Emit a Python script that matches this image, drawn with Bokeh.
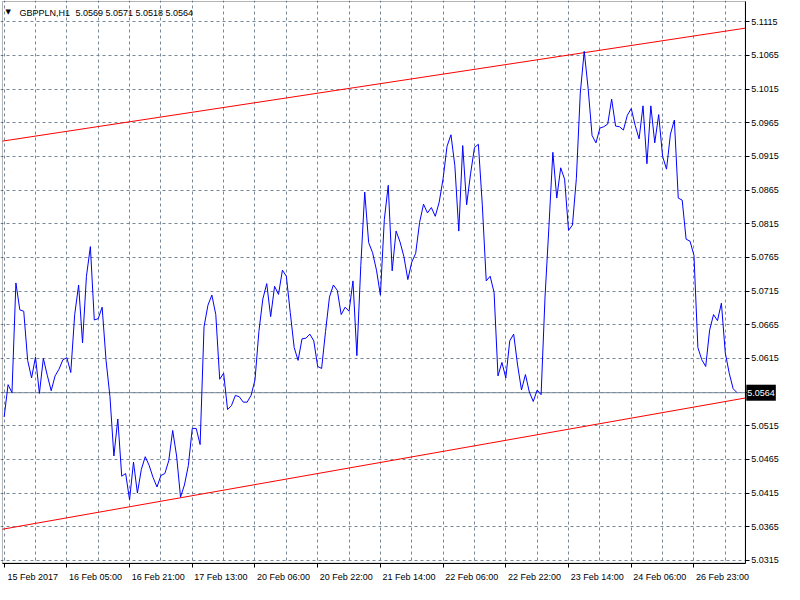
from bokeh.plotting import figure
from bokeh.models import Range1d, FixedTicker, Label, LinearAxis, BoxAnnotation
from bokeh.embed import file_html
from bokeh.resources import INLINE

# ---------------- data ----------------
symbol = "GBPPLN,H1"
ohlc_text = "5.0569 5.0571 5.0518 5.0564"

# hourly closes, one per bar (bar 0 = 15 Feb 2017 13:00)
close = [
    5.0528, 5.0576, 5.0564, 5.0727, 5.0687, 5.0685, 5.0612, 5.0586, 5.0617, 5.0563,
    5.0615, 5.0590, 5.0567, 5.0589, 5.0599, 5.0613, 5.0616, 5.0594, 5.0680, 5.0724,
    5.0638, 5.0737, 5.0781, 5.0672, 5.0674, 5.0691, 5.0612, 5.0558, 5.0470, 5.0525,
    5.0440, 5.0444, 5.0405, 5.0461, 5.0415, 5.0450, 5.0469, 5.0456, 5.0438, 5.0424,
    5.0441, 5.0444, 5.0463, 5.0508, 5.0470, 5.0409, 5.0427, 5.0456, 5.0511, 5.0511,
    5.0487, 5.0662, 5.0694, 5.0709, 5.0680, 5.0584, 5.0593, 5.0539, 5.0545, 5.0560,
    5.0558, 5.0550, 5.0550, 5.0560, 5.0583, 5.0655, 5.0703, 5.0726, 5.0677, 5.0722,
    5.0710, 5.0746, 5.0737, 5.0683, 5.0631, 5.0612, 5.0644, 5.0645, 5.0651, 5.0641,
    5.0603, 5.0600, 5.0655, 5.0706, 5.0724, 5.0716, 5.0680, 5.0691, 5.0685, 5.0730,
    5.0619, 5.0753, 5.0862, 5.0787, 5.0772, 5.0746, 5.0709, 5.0821, 5.0872, 5.0745,
    5.0804, 5.0788, 5.0766, 5.0732, 5.0758, 5.0771, 5.0817, 5.0844, 5.0831, 5.0839,
    5.0826, 5.0847, 5.0882, 5.0930, 5.0947, 5.0901, 5.0804, 5.0931, 5.0843, 5.0889,
    5.0928, 5.0933, 5.0843, 5.0730, 5.0737, 5.0713, 5.0589, 5.0609, 5.0586, 5.0641,
    5.0651, 5.0605, 5.0568, 5.0591, 5.0565, 5.0551, 5.0568, 5.0561, 5.0706, 5.0811,
    5.0921, 5.0853, 5.0898, 5.0881, 5.0805, 5.0813, 5.0882, 5.1009, 5.1071, 5.1016,
    5.0946, 5.0935, 5.0957, 5.0959, 5.0963, 5.1000, 5.0960, 5.0959, 5.0954, 5.0976,
    5.0986, 5.0961, 5.0941, 5.0990, 5.0904, 5.0990, 5.0935, 5.0977, 5.0915, 5.0896,
    5.0948, 5.0969, 5.0853, 5.0850, 5.0792, 5.0789, 5.0768, 5.0631, 5.0613, 5.0603,
    5.0657, 5.0680, 5.0671, 5.0697, 5.0623, 5.0593, 5.0570, 5.0564,
]
bars = list(range(len(close)))

time_label_bars = [0, 16, 32, 48, 64, 80, 96, 112, 128, 144, 160, 176]
time_labels = ["15 Feb 2017", "16 Feb 05:00", "16 Feb 21:00", "17 Feb 13:00",
               "20 Feb 06:00", "20 Feb 22:00", "21 Feb 14:00", "22 Feb 06:00",
               "22 Feb 22:00", "23 Feb 14:00", "24 Feb 06:00", "26 Feb 23:00"]

price_ticks = [5.0315, 5.0365, 5.0415, 5.0465, 5.0515, 5.0565, 5.0615, 5.0665,
               5.0715, 5.0765, 5.0815, 5.0865, 5.0915, 5.0965, 5.1015, 5.1065, 5.1115]

# channel trend lines, two anchor points each (bar, price)
upper_bars = [0, 148]
upper_prices = [5.0938, 5.1069]
lower_bars = [45, 187]
lower_prices = [5.0408, 5.0554]

# ---------------- layout / styling ----------------
FONT = "Liberation Sans"
FS = "9px"
GRID = "#778899"
W, H = 784, 584
LABEL_SHIFT = 7.3          # bars: puts each time label just right of its tick

# visible price window (plot area)
x0, x1 = -0.43, 189.1
y0, y1 = 5.0311, 5.1145
# plot area inside the canvas (as fractions of an 800x600 chart window)
PL, PR, PT, PB = 2 / 800, 760 / 800, 1 / 600, 578 / 600
xs = (x1 - x0) / (PR - PL)
ys = (y1 - y0) / (PB - PT)
fx0, fx1 = x0 - PL * xs, x0 + (1 - PL) * xs
fy1, fy0 = y1 + PT * ys, y1 - (1 - PT) * ys

p = figure(width=W, height=H, x_range=Range1d(fx0, fx1), y_range=Range1d(fy0, fy1),
           x_axis_location=None, y_axis_location=None,
           output_backend="svg", toolbar_location=None,
           min_border=0, min_border_left=0, min_border_right=0,
           min_border_top=0, min_border_bottom=0,
           background_fill_color="white", border_fill_color="white")
p.outline_line_color = None

# grids
p.xgrid.ticker = FixedTicker(ticks=list(range(0, len(close) + 2, 8)))
p.ygrid.ticker = FixedTicker(ticks=price_ticks)
for g in (p.xgrid, p.ygrid):
    g.grid_line_color = GRID
    g.grid_line_dash = "3 3"
    g.grid_line_width = 1

# white margins (price scale and time scale areas) hide grid lines there
p.add_layout(BoxAnnotation(left=x1, right=fx1, bottom=fy0, top=fy1, fill_color="white",
                           fill_alpha=1, line_color=None, level="underlay"))
p.add_layout(BoxAnnotation(left=fx0, right=fx1, bottom=fy0, top=y0, fill_color="white",
                           fill_alpha=1, line_color=None, level="underlay"))

# time axis
label_pos = [b + LABEL_SHIFT for b in time_label_bars]
xa = LinearAxis(fixed_location=y0, bounds=(x0, x1),
                ticker=FixedTicker(ticks=label_pos, minor_ticks=time_label_bars),
                major_label_overrides={lp: t for lp, t in zip(label_pos, time_labels)},
                axis_line_color="black", major_tick_line_color=None,
                major_tick_in=0, major_tick_out=0,
                minor_tick_line_color="black", minor_tick_in=0, minor_tick_out=4,
                major_label_standoff=5,
                major_label_text_font=FONT, major_label_text_font_size=FS,
                major_label_text_color="black")
p.add_layout(xa, "below")

# price axis
ya = LinearAxis(fixed_location=x1, bounds=(y0, y1),
                ticker=FixedTicker(ticks=price_ticks),
                major_label_overrides={t: ("" if abs(t - close[-1]) < 0.0003 else "%.4f" % t)
                                       for t in price_ticks},
                axis_line_color="black", major_tick_line_color="black",
                major_tick_in=0, major_tick_out=4, minor_tick_line_color=None,
                major_label_standoff=2,
                major_label_text_font=FONT, major_label_text_font_size=FS,
                major_label_text_color="black")
p.add_layout(ya, "right")

# channel lines (drawn across the plot area)
for bb, pp in ((upper_bars, upper_prices), (lower_bars, lower_prices)):
    grad = (pp[1] - pp[0]) / (bb[1] - bb[0])
    ends = [x0, x1]
    p.line(ends, [pp[0] + grad * (e - bb[0]) for e in ends], line_color="#ff0000", line_width=1)

# bid line
p.line([x0, x1], [close[-1], close[-1]], line_color=GRID, line_width=1)

# price series
p.line(bars, close, line_color="#0000ff", line_width=1)

# chart frame
p.add_layout(BoxAnnotation(left=x0, right=x1, bottom=y0, top=y1, fill_alpha=0,
                           line_color="black", line_width=1))

# header
p.add_layout(Label(x=x0, y=y1, x_offset=3, y_offset=-11, text="\u25bc",
                   text_font="DejaVu Sans", text_font_size="7px", text_color="black",
                   text_align="left", text_baseline="alphabetic"))
p.add_layout(Label(x=x0, y=y1, x_offset=17, y_offset=-12, text=symbol,
                   text_font=FONT, text_font_size=FS, text_color="black",
                   text_align="left", text_baseline="alphabetic"))
p.add_layout(Label(x=x0, y=y1, x_offset=73, y_offset=-12, text=ohlc_text,
                   text_font=FONT, text_font_size=FS, text_color="black",
                   text_align="left", text_baseline="alphabetic"))

# current price tag on the price scale
p.add_layout(Label(x=x1, y=close[-1], x_offset=1, text="%.4f" % close[-1],
                   text_font=FONT, text_font_size=FS, text_color="white",
                   text_align="left", text_baseline="middle",
                   background_fill_color="black", padding=(1, 5)))

open("out.html", "w").write(file_html(p, INLINE))
